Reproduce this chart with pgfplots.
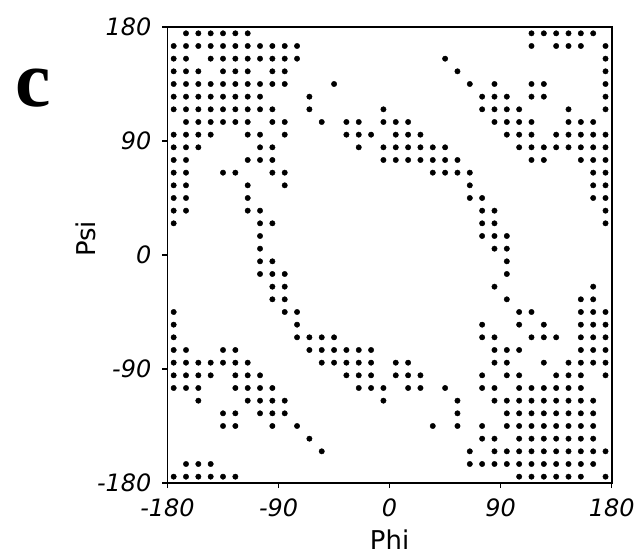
\documentclass[border=0pt]{standalone}
\usepackage{fontspec}
\setmainfont{DejaVu Sans}
\newfontfamily\cfont{Liberation Serif}
\usepackage{pgfplots}
\pgfplotsset{compat=1.18}
\begin{document}
\begin{tikzpicture}
\begin{axis}[name=ax, at={(0,0)}, anchor=south west, scale only axis,
 width=444.2bp, height=456bp,
 xmin=-180, xmax=180, ymin=-180, ymax=180,
 xtick={-180,-90,0,90,180}, ytick={-180,-90,0,90,180},
 xticklabels={-180,-90,0,90,180}, yticklabels={-180,-90,0,90,180},
 tick pos=left,
 tick align=outside, major tick length=5bp,
 every tick/.style={black, line width=1.2bp},
 axis line style={black, line width=1.6bp},
 ticklabel style={font=\fontsize{24}{26}\selectfont\itshape, inner sep=0pt},
 xticklabel style={anchor=north}, yticklabel style={anchor=east},
 xticklabel shift=11bp, yticklabel shift=11bp,
 clip=false,
]
\addplot[only marks, mark=*, mark size=2.7bp, black] coordinates {
(-165,175)(-155,175)(-145,175)(-135,175)(-125,175)(-115,175)(115,175)(125,175)(135,175)(145,175)(155,175)(165,175)
(-175,165)(-165,165)(-155,165)(-145,165)(-135,165)(-125,165)(-115,165)(-105,165)(-95,165)(-85,165)(-75,165)(115,165)(135,165)(145,165)(155,165)(175,165)
(-175,155)(-165,155)(-145,155)(-135,155)(-125,155)(-115,155)(-105,155)(-95,155)(-85,155)(-75,155)(45,155)(175,155)
(-175,145)(-165,145)(-155,145)(-135,145)(-125,145)(-115,145)(-95,145)(-85,145)(55,145)(175,145)
(-175,135)(-165,135)(-155,135)(-145,135)(-135,135)(-125,135)(-115,135)(-105,135)(-95,135)(-85,135)(-45,135)(65,135)(85,135)(115,135)(125,135)(175,135)
(-175,125)(-165,125)(-155,125)(-145,125)(-135,125)(-125,125)(-115,125)(-105,125)(-65,125)(75,125)(85,125)(95,125)(115,125)(125,125)(175,125)
(-175,115)(-165,115)(-155,115)(-145,115)(-135,115)(-125,115)(-115,115)(-105,115)(-95,115)(-65,115)(-5,115)(75,115)(85,115)(95,115)(105,115)(145,115)(175,115)
(-165,105)(-155,105)(-145,105)(-135,105)(-125,105)(-115,105)(-95,105)(-85,105)(-55,105)(-35,105)(-25,105)(-5,105)(5,105)(15,105)(85,105)(95,105)(105,105)(115,105)(145,105)(155,105)(165,105)
(-175,95)(-165,95)(-155,95)(-145,95)(-115,95)(-105,95)(-85,95)(-35,95)(-25,95)(-15,95)(5,95)(15,95)(25,95)(95,95)(105,95)(115,95)(135,95)(145,95)(155,95)(165,95)(175,95)
(-175,85)(-165,85)(-155,85)(-105,85)(-95,85)(-25,85)(-5,85)(5,85)(15,85)(25,85)(35,85)(45,85)(105,85)(115,85)(125,85)(135,85)(145,85)(155,85)(165,85)(175,85)
(-175,75)(-165,75)(-115,75)(-105,75)(-95,75)(-5,75)(5,75)(15,75)(25,75)(35,75)(45,75)(55,75)(115,75)(125,75)(155,75)(165,75)(175,75)
(-175,65)(-165,65)(-135,65)(-125,65)(-95,65)(-85,65)(35,65)(45,65)(55,65)(65,65)(165,65)(175,65)
(-175,55)(-165,55)(-115,55)(-85,55)(65,55)(165,55)(175,55)
(-175,45)(-165,45)(-115,45)(65,45)(75,45)(165,45)(175,45)
(-175,35)(-165,35)(-115,35)(-105,35)(75,35)(85,35)(175,35)
(-175,25)(-105,25)(-95,25)(75,25)(85,25)(175,25)
(-105,15)(75,15)(85,15)(95,15)
(-105,5)(85,5)(95,5)
(-105,-5)(-95,-5)(95,-5)
(-105,-15)(-95,-15)(-85,-15)(95,-15)
(-95,-25)(-85,-25)(85,-25)(165,-25)
(-95,-35)(-85,-35)(95,-35)(155,-35)(165,-35)
(-175,-45)(-85,-45)(-75,-45)(105,-45)(115,-45)(155,-45)(165,-45)(175,-45)
(-175,-55)(-75,-55)(75,-55)(105,-55)(125,-55)(155,-55)(165,-55)(175,-55)
(-175,-65)(-75,-65)(-65,-65)(-55,-65)(-45,-65)(75,-65)(85,-65)(115,-65)(125,-65)(135,-65)(155,-65)(165,-65)(175,-65)
(-175,-75)(-165,-75)(-135,-75)(-125,-75)(-65,-75)(-55,-75)(-45,-75)(-35,-75)(-25,-75)(-15,-75)(85,-75)(95,-75)(105,-75)(155,-75)(165,-75)(175,-75)
(-175,-85)(-165,-85)(-155,-85)(-145,-85)(-135,-85)(-125,-85)(-115,-85)(-55,-85)(-45,-85)(-35,-85)(-25,-85)(-15,-85)(5,-85)(15,-85)(85,-85)(95,-85)(125,-85)(145,-85)(155,-85)(165,-85)(175,-85)
(-175,-95)(-165,-95)(-155,-95)(-145,-95)(-125,-95)(-115,-95)(-105,-95)(-35,-95)(-25,-95)(-15,-95)(5,-95)(15,-95)(25,-95)(75,-95)(95,-95)(105,-95)(135,-95)(145,-95)(155,-95)(175,-95)
(-175,-105)(-165,-105)(-155,-105)(-125,-105)(-115,-105)(-105,-105)(-95,-105)(-25,-105)(-15,-105)(-5,-105)(15,-105)(25,-105)(45,-105)(75,-105)(85,-105)(105,-105)(115,-105)(125,-105)(135,-105)(145,-105)(155,-105)
(-155,-115)(-115,-115)(-105,-115)(-95,-115)(-85,-115)(-5,-115)(55,-115)(85,-115)(95,-115)(105,-115)(115,-115)(125,-115)(135,-115)(145,-115)(155,-115)(165,-115)
(-135,-125)(-125,-125)(-105,-125)(-95,-125)(-85,-125)(55,-125)(95,-125)(105,-125)(115,-125)(125,-125)(135,-125)(145,-125)(155,-125)(165,-125)
(-135,-135)(-125,-135)(-95,-135)(-75,-135)(35,-135)(55,-135)(75,-135)(95,-135)(105,-135)(115,-135)(125,-135)(135,-135)(145,-135)(155,-135)(165,-135)
(-65,-145)(75,-145)(85,-145)(105,-145)(115,-145)(125,-145)(135,-145)(145,-145)(155,-145)(165,-145)
(-55,-155)(65,-155)(85,-155)(95,-155)(105,-155)(115,-155)(125,-155)(135,-155)(145,-155)(155,-155)(165,-155)(175,-155)
(-165,-165)(-155,-165)(-145,-165)(65,-165)(75,-165)(85,-165)(95,-165)(105,-165)(115,-165)(125,-165)(135,-165)(145,-165)(155,-165)(165,-165)
(-175,-175)(-165,-175)(-155,-175)(-145,-175)(-135,-175)(-125,-175)(105,-175)(115,-175)(125,-175)(135,-175)(145,-175)(155,-175)(175,-175)
};
\end{axis}
\path ([shift={(-167.5bp,-76bp)}]ax.south west) rectangle ([shift={(30.3bp,27bp)}]ax.north east);
\node[rotate=90, font=\fontsize{26}{28}\selectfont] at ([shift={(-81.5bp,16bp)}]ax.west) {Psi};
\node[font=\fontsize{26}{28}\selectfont] at ([shift={(0bp,-57bp)}]ax.south) {Phi};
\node[anchor=base west, font=\cfont\bfseries\fontsize{80}{80}\selectfont, inner sep=0pt] at ([shift={(-152.5bp,-80bp)}]ax.north west) {c};
\end{tikzpicture}
\end{document}
